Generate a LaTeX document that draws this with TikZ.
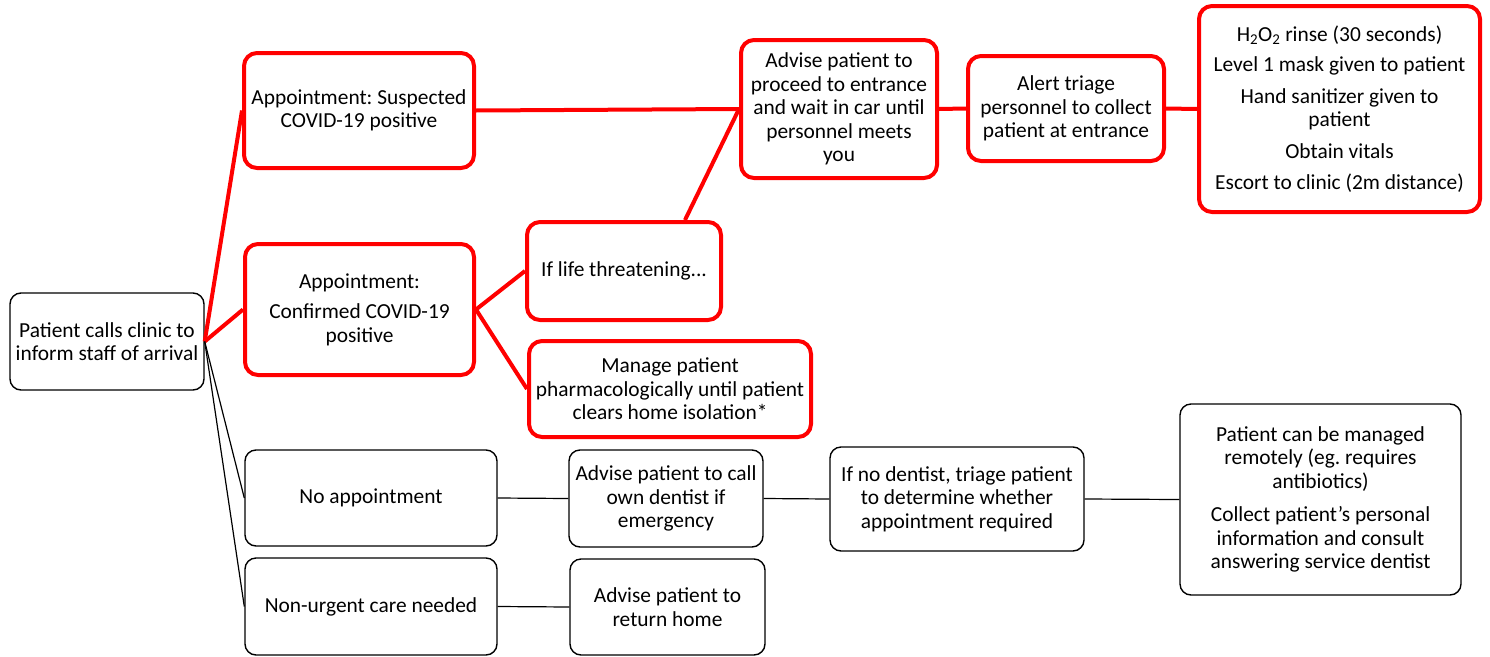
\documentclass[tikz,border=0pt]{standalone}
\usepackage{fontspec}
\setmainfont{Carlito}
\frenchspacing
\begin{document}
\begin{tikzpicture}[x=1pt,y=-1pt,
  redbox/.style={draw=red, line width=4pt, rounded corners=13pt, fill=white, align=center, inner sep=0pt},
  blkbox/.style={draw=black, line width=1.4pt, rounded corners=11pt, fill=white, align=center, inner sep=0pt},
  redline/.style={red, line width=4pt},
  blkline/.style={black, line width=1.2pt},
  font=\fontsize{21.4}{23.5}\selectfont\frenchspacing]
\useasboundingbox (0,0) rectangle (1490,656);

\node[blkbox, minimum width=194pt, minimum height=97pt] (start) at (107,341.5) {Patient calls clinic to\\inform staff of arrival};

\node[redbox, minimum width=230pt, minimum height=115pt] (sus) at (359,110.5) {Appointment: Suspected\\COVID-19 positive};
\node[redbox, minimum width=229pt, minimum height=131pt] (conf) at (359.5,309.5) {Appointment:\\[7pt]Confirmed COVID-19\\positive};
\node[redbox, minimum width=194pt, minimum height=98pt] (life) at (624,271) {If life threatening...};
\node[redbox, minimum width=282pt, minimum height=96pt] (man) at (670,389) {Manage patient\\pharmacologically until patient\\clears home isolation*};
\node[redbox, minimum width=196pt, minimum height=138pt] (adv) at (839,109) {Advise patient to\\proceed to entrance\\and wait in car until\\personnel meets\\you};
\node[redbox, minimum width=196pt, minimum height=105pt] (alert) at (1066,108.5) {Alert triage\\personnel to collect\\patient at entrance};
\node[redbox, minimum width=281pt, minimum height=206pt] (h2) at (1339.5,109) {H\textsubscript{2}O\textsubscript{2} rinse (30 seconds)\\[7pt]Level 1 mask given to patient\\[8pt]Hand sanitizer given to\\patient\\[8pt]Obtain vitals\\[8pt]Escort to clinic (2m distance)};

\node[blkbox, minimum width=252pt, minimum height=96pt] (noap) at (371,498) {No appointment};
\node[blkbox, minimum width=194pt, minimum height=97pt] (call) at (666,498.5) {Advise patient to call\\own dentist if\\emergency};
\node[blkbox, minimum width=254pt, minimum height=104pt] (nod) at (957,499) {If no dentist, triage patient\\to determine whether\\appointment required};
\node[blkbox, minimum width=281pt, minimum height=191pt] (rem) at (1320.5,499.5) {Patient can be managed\\remotely (eg. requires\\antibiotics)\\[10pt]Collect patient’s personal\\information and consult\\answering service dentist};
\node[blkbox, minimum width=252pt, minimum height=97pt] (nonu) at (371,606.5) {Non-urgent care needed};
\node[blkbox, minimum width=195pt, minimum height=96pt] (home) at (667.5,607) {Advise patient to\\return home};

\draw[redline] (start.east) -- (sus.west);
\draw[redline] (start.east) -- (conf.west);
\draw[blkline] (start.east) -- (noap.west);
\draw[blkline] (start.east) -- (nonu.west);
\draw[redline] (sus.east) -- (adv.west);
\draw[redline] (conf.east) -- (life.west);
\draw[redline] (conf.east) -- (man.west);
\draw[redline] ([xshift=61pt]life.north) -- (adv.west);
\draw[redline] (adv.east) -- (alert.west);
\draw[redline] (alert.east) -- (h2.west);
\draw[blkline] (noap.east) -- (call.west);
\draw[blkline] (call.east) -- (nod.west);
\draw[blkline] (nod.east) -- (rem.west);
\draw[blkline] (nonu.east) -- (home.west);
\end{tikzpicture}
\end{document}
